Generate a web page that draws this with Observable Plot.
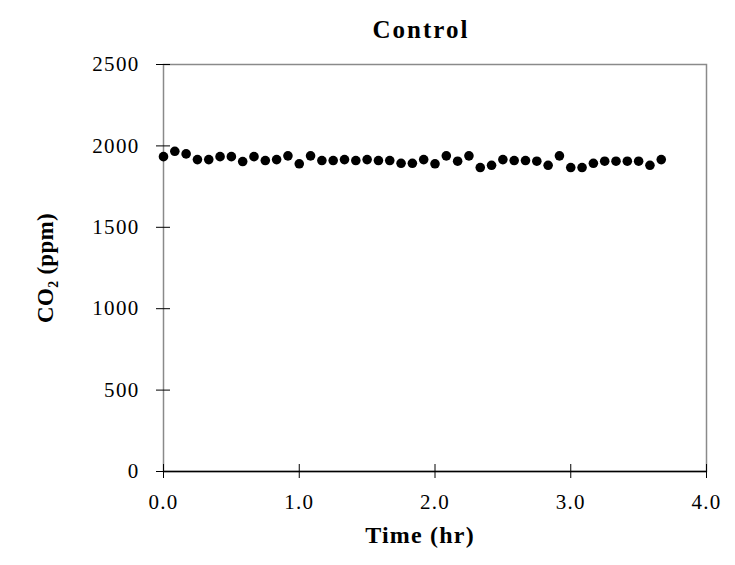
<!DOCTYPE html>
<html>
<head>
<meta charset="utf-8">
<script src="https://cdn.jsdelivr.net/npm/d3@7"></script>
<script src="https://cdn.jsdelivr.net/npm/@observablehq/plot@0.6"></script>
<style>
  html, body { margin: 0; padding: 0; background: #fff; }
  svg { display: block; }
  g[aria-label="x-axis tick label"] text,
  g[aria-label="y-axis tick label"] text { letter-spacing: 1.3px; }
  g.title text { letter-spacing: 2px; }
  g.xlabel text { letter-spacing: 1.2px; }
  g.ylabel text { letter-spacing: 0.3px; }
</style>
</head>
<body>
<div id="chart"></div>
<script>
// Time in minutes (one reading every 5 minutes), shown in hours
const minutes = [0,5,10,15,20,25,30,35,40,45,50,55,60,65,70,75,80,85,90,95,100,105,110,115,
  120,125,130,135,140,145,150,155,160,165,170,175,180,185,190,195,200,205,210,215,220];
const co2 = [1934,1967,1951,1916,1916,1934,1934,1904,1934,1910,1916,1939,1890,1939,1910,1910,
  1916,1910,1916,1910,1910,1893,1893,1916,1890,1939,1906,1939,1867,1881,1916,1910,1910,1906,
  1881,1939,1867,1867,1893,1906,1906,1906,1906,1881,1916];
const xTicks = [0, 1, 2, 3, 4];
const yTicks = [0, 500, 1000, 1500, 2000, 2500];
const title = "Control";
const xLabel = "Time (hr)";
const yLabel = "CO\u2082 (ppm)";

const data = minutes.map((m, i) => ({t: m / 60, co2: co2[i]}));
const serif = "'Liberation Serif', 'Times New Roman', serif";

const chart = Plot.plot({
  width: 735,
  height: 565,
  marginLeft: 163,
  marginRight: 29,
  marginTop: 64,
  marginBottom: 94,
  style: {fontFamily: serif, background: "#fff", color: "#000"},
  x: {domain: [0, 4], axis: null},
  y: {domain: [0, 2500], axis: null},
  marks: [
    Plot.frame({stroke: "#8a8a8a", strokeWidth: 1.5}),
    Plot.ruleY([0], {stroke: "#000", strokeWidth: 1.5}),
    // cross ticks on x axis
    Plot.axisX({ticks: xTicks, tickSize: 14, dy: -7, tickFormat: () => "", label: null, stroke: "#000"}),
    // x tick labels
    Plot.axisX({ticks: xTicks, tickSize: 0, tickPadding: 23, tickFormat: d3.format(".1f"),
      label: null, fontSize: 21}),
    // cross ticks on y axis
    Plot.axisY({ticks: yTicks, tickSize: 14, dx: 7, tickFormat: () => "", label: null, stroke: "#000"}),
    // y tick labels
    Plot.axisY({ticks: yTicks, tickSize: 0, tickPadding: 24, tickFormat: d3.format("d"),
      label: null, fontSize: 21}),
    Plot.dot(data, {x: "t", y: "co2", r: 4.8, fill: "#000", stroke: "none"}),
    Plot.text([title], {frameAnchor: "top", textAnchor: "middle", dx: -14, dy: -44,
      fontSize: 25, fontWeight: "bold", fill: "#000", className: "title"}),
    Plot.text([xLabel], {frameAnchor: "bottom", textAnchor: "middle", dx: -15, dy: 71,
      fontSize: 24, fontWeight: "bold", fill: "#000", className: "xlabel"}),
    Plot.text([yLabel], {frameAnchor: "left", textAnchor: "middle", dx: -118, dy: 0, rotate: -90,
      fontSize: 23, fontWeight: "bold", fill: "#000", className: "ylabel"})
  ]
});
document.getElementById("chart").appendChild(chart);
</script>
</body>
</html>
